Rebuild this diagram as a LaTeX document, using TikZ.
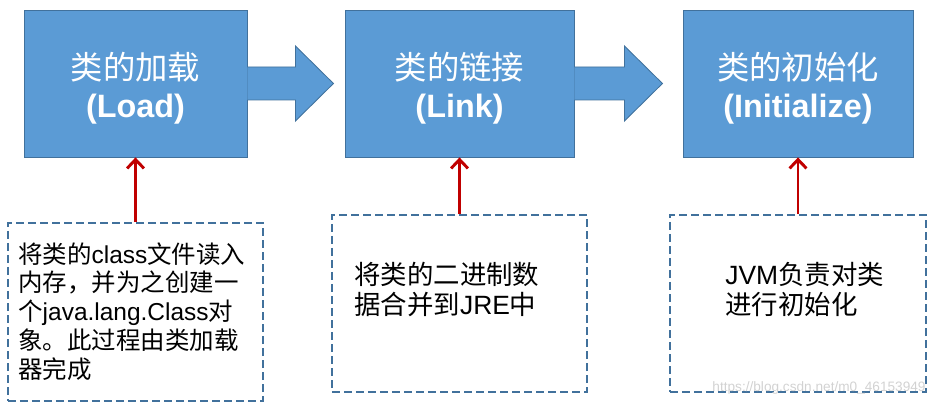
\documentclass[tikz,border=0pt]{standalone}
\usepackage{fontspec}
\setmainfont{Liberation Sans}
\newfontfamily\cjk{Noto Sans CJK SC}
\usepackage{xcolor}
\usetikzlibrary{calc,arrows.meta,positioning}

\definecolor{boxblue}{HTML}{5B9BD5}
\definecolor{boxline}{HTML}{41719C}
\definecolor{feedred}{HTML}{C00000}
\newcommand{\zh}[1]{{\cjk #1}}
\newcommand{\lift}{\rule{0pt}{26.5pt}}

\tikzset{
  stage/.style={draw=boxline, fill=boxblue, line width=0.6pt, text=white, align=center,
    minimum height=3.675cm, font=\fontsize{23}{27}\selectfont},
  flow/.style={fill=boxblue, draw=boxline, line width=0.6pt},
  note/.style={draw=boxline, line width=1.3pt, dash pattern=on 0.2cm off 0.1cm},
  notetext/.style={anchor=north west, inner sep=0pt, align=left},
  feed/.style={draw=feedred, line width=2.1pt, -{Straight Barb[length=0.22cm,width=0.42cm]}}
}

\begin{document}
\begin{tikzpicture}[x=0.025cm, y=0.025cm]
    \useasboundingbox (0,0) rectangle (939,407);

    % Stages
    \node[stage, minimum width=5.575cm] (load) at (135.5,323.5) {\lift\zh{类的加载}\\\textbf{(Load)}};
    \node[stage, minimum width=5.725cm] (link) at (459.5,323.5) {\lift\zh{类的链接}\\\textbf{(Link)}};
    \node[stage, minimum width=5.75cm] (init) at (798,323.5) {\lift\zh{类的初始化}\\\textbf{(Initialize)}};

    % Block arrows between the stages (head is 38 long)
    \foreach \a/\len in {load/86, link/88} {
        \filldraw[flow] ($(\a.east)+(0,16.5)$) -- ++({\len-38},0) -- ++(0,21)
            -- ($(\a.east)+(\len,0)$) -- ++(-38,-37.5) -- ++(0,21) -- ++({38-\len},0);
    }

    % Notes under each stage
    \node[note, minimum width=6.375cm, minimum height=4.45cm] (note-load) at (135.5,95) {};
    \node[note, minimum width=6.375cm, minimum height=4.425cm] (note-link) at (459.5,103.5) {};
    \node[note, minimum width=6.4cm, minimum height=4.425cm] (note-init) at (798,103.5) {};

    \node[notetext, font=\fontsize{17.4}{20.6}\selectfont] (text-load) at (18,165)
        {\zh{将类的}class\zh{文件读入}\\\zh{内存，并为之创建一}\\\zh{个}java.lang.Class\zh{对}\\\zh{象。此过程由类加载}\\\zh{器完成}};
    \node[notetext, font=\fontsize{18.8}{21.3}\selectfont] (text-link) at (354,145)
        {\zh{将类的二进制数}\\\zh{据合并到}JRE\zh{中}};
    \node[notetext, font=\fontsize{18.8}{21.3}\selectfont] (text-init) at (725,145)
        {JVM\zh{负责对类}\\\zh{进行初始化}};

    % Red arrows from notes up to stages
    \foreach \s in {load, link, init}
        \draw[feed] (note-\s.north) -- (\s.south);

    % Watermark
    \node[text=gray!35, font=\fontsize{9.7}{12}\selectfont] (mark) at (819,19) {https://blog.csdn.net/m0\_46153949};
\end{tikzpicture}
\end{document}
